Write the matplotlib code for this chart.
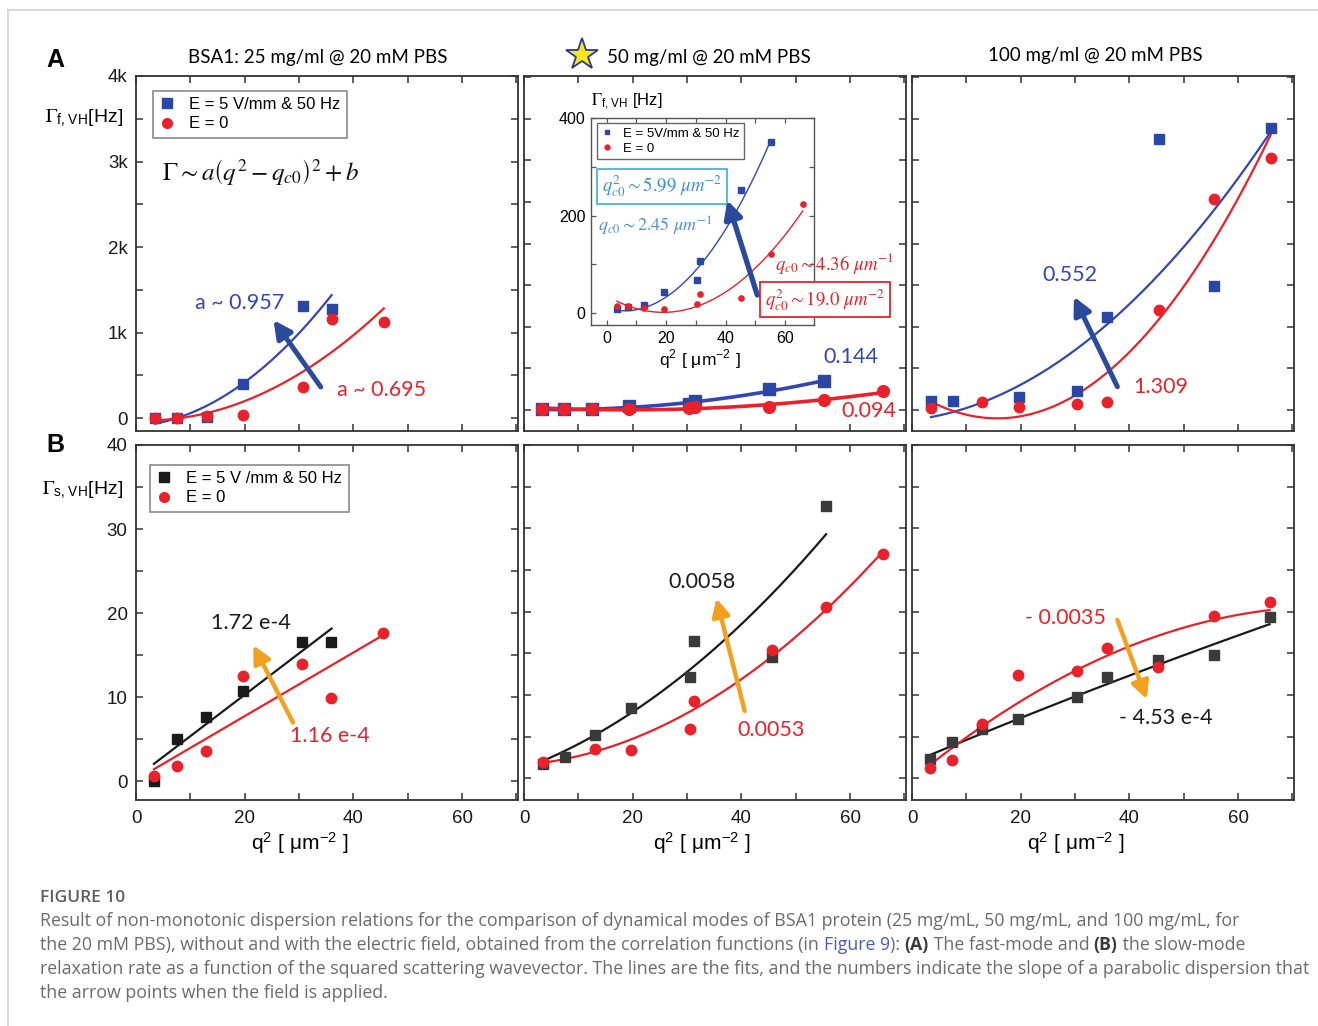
import numpy as np
import matplotlib
matplotlib.use("Agg")
import matplotlib.pyplot as plt
from matplotlib.ticker import MultipleLocator, FuncFormatter
from matplotlib.lines import Line2D

# ---- data (q^2 in um^-2, Gamma in Hz) ----
# A: fast mode, 25 mg/ml
q2_A1_E = [3.5, 7.6, 13.0, 19.6, 30.7, 36.0]
G_A1_E = [0, 0, 12, 403, 1310, 1278]
q2_A1_0 = [3.5, 7.6, 13.0, 19.6, 30.7, 36.0, 45.6]
G_A1_0 = [0, 0, 20, 32, 360, 1160, 1122]
# A: fast mode, 50 mg/ml (same points in main panel and inset)
q2_A2_E = [3.4, 7.3, 12.6, 19.4, 30.3, 31.4, 45.1, 55.3]
G_A2_E = [8, 13, 16, 43, 68, 108, 252, 351]
q2_A2_0 = [3.4, 7.3, 12.6, 19.4, 30.3, 31.4, 45.1, 55.3, 66.0]
G_A2_0 = [14, 14, 10, 8, 20, 40, 32, 122, 223]
# A: fast mode, 100 mg/ml
q2_A3_E = [3.5, 7.5, 19.6, 30.4, 35.8, 45.5, 55.6, 66.0]
G_A3_E = [112, 112, 160, 232, 1114, 3254, 1490, 3386]
q2_A3_0 = [3.5, 12.9, 19.6, 30.4, 35.9, 45.5, 55.6, 66.0]
G_A3_0 = [28, 100, 36, 72, 100, 1202, 2536, 3025]
# B: slow mode
q2_B1_E = [3.3, 7.5, 12.9, 19.6, 30.5, 35.9]
G_B1_E = [0, 5.1, 7.7, 10.7, 16.6, 16.6]
q2_B1_0 = [3.3, 7.5, 12.9, 19.6, 30.5, 35.9, 45.5]
G_B1_0 = [0.7, 1.85, 3.6, 12.5, 14.0, 9.9, 17.6]
q2_B2_E = [3.5, 7.6, 13.1, 19.7, 30.5, 31.2, 45.6, 55.6]
G_B2_E = [1.7, 2.5, 5.2, 8.4, 12.1, 16.5, 14.6, 32.7]
q2_B2_0 = [3.5, 13.1, 19.7, 30.5, 31.2, 45.6, 55.6, 66.0]
G_B2_0 = [2.0, 3.5, 3.4, 5.9, 9.3, 15.4, 20.6, 26.9]
q2_B3 = [3.3, 7.4, 12.9, 19.5, 30.3, 35.8, 45.3, 55.6, 65.8]
G_B3_E = [2.3, 4.3, 5.9, 7.1, 9.7, 12.1, 14.2, 14.8, 19.3]
G_B3_0 = [1.2, 2.2, 6.5, 12.4, 12.9, 15.6, 13.3, 19.5, 21.2]

# fit curves: polynomial coefficients (highest power first) and q^2 range
fit_A1_E = ([1.057, 4.52, -94.8], 3.5, 36.0)
fit_A1_0 = ([0.682, -2.41, -26.9], 3.5, 45.6)
fit_A2_E = ([0.144, -1.725, 10.2], 3.4, 55.3)
fit_A2_0 = ([0.094, -3.572, 35.9], 3.4, 66.0)
fit_A3_E = ([0.68, 7.6, -120.0], 3.5, 65.7)
fit_A3_0 = ([1.346, -42.26, 231.8], 3.5, 66.0)
fit_B1_E = ([0.492, 0.47], 3.3, 36.0)
fit_B1_0 = ([0.378, 0.21], 3.3, 45.5)
fit_B2_E = ([0.00467, 0.246, 1.18], 3.5, 55.6)
fit_B2_0 = ([0.00502, 0.0563, 1.61], 3.5, 66.0)
fit_B3_E = ([-0.000332, 0.274, 1.90], 3.3, 65.8)
fit_B3_0 = ([-0.00351, 0.540, -0.144], 3.3, 65.8)

titles = ["BSA1: 25 mg/ml @ 20 mM PBS", "50 mg/ml @ 20 mM PBS", "100 mg/ml @ 20 mM PBS"]

BLUE = "#2b47a6"
BLUE_L = "#3446b4"
RED = "#e8212a"
BLACK = "#1a1a1a"
GREY_SQ = "#3a3a3a"
ORANGE = "#f2a11f"
ARROW_BLUE = "#2a4a9c"
SANS = ["Liberation Sans", "DejaVu Sans"]
CAL = ["Lato", "DejaVu Sans"]

W, H = 1318, 1026
plt.rcParams["mathtext.fontset"] = "stix"
plt.rcParams["font.family"] = SANS

fig = plt.figure(figsize=(W / 100, H / 100), dpi=100)


def box(l, t, r, b):
    return [l / W, 1 - b / H, (r - l) / W, (b - t) / H]


def frame(ax, ylim, ymaj, ymin, ylab, xlab, fmt=None):
    ax.set_xlim(0, 70.3)
    ax.set_ylim(*ylim)
    ax.xaxis.set_major_locator(MultipleLocator(20))
    ax.xaxis.set_minor_locator(MultipleLocator(10))
    ax.yaxis.set_major_locator(MultipleLocator(ymaj))
    ax.yaxis.set_minor_locator(MultipleLocator(ymin))
    ax.tick_params(which="both", direction="in", top=True, right=True,
                   length=5, width=1.1, color="#333333",
                   labelsize=13.5, labelcolor="#1a1a1a")
    ax.tick_params(axis="x", pad=7)
    ax.tick_params(axis="y", pad=6)
    ax.tick_params(labelleft=ylab, labelbottom=xlab)
    if fmt is not None:
        ax.yaxis.set_major_formatter(fmt)
    for s in ax.spines.values():
        s.set_color("#333333")
        s.set_linewidth(1.3)


def fit(ax, f, color, lw):
    coef, lo, hi = f
    xs = np.linspace(lo, hi, 200)
    ax.plot(xs, np.polyval(coef, xs), color=color, lw=lw, zorder=2)


def arrow(ax, tail, head, color, lw=3.6):
    ax.annotate("", xy=head, xytext=tail,
                arrowprops=dict(arrowstyle="-|>,head_length=0.75,head_width=0.38",
                                color=color, lw=lw, shrinkA=0, shrinkB=0,
                                mutation_scale=14), zorder=5)


kfmt = FuncFormatter(lambda v, p: "0" if v == 0 else f"{int(v / 1000)}k")
QLAB = r"q$^{\mathregular{2}}$ [ μm$^{\mathregular{-2}}$ ]"

axA1 = fig.add_axes(box(136, 76, 518, 431))
axA2 = fig.add_axes(box(524, 76, 906, 431))
axA3 = fig.add_axes(box(912, 76, 1294, 431))
axB1 = fig.add_axes(box(136, 445, 518, 800))
axB2 = fig.add_axes(box(524, 445, 906, 800))
axB3 = fig.add_axes(box(912, 445, 1294, 800))

frame(axA1, (-152, 4000), 1000, 500, True, False, kfmt)
frame(axA2, (-252, 4014), 500, 500, False, False)
frame(axA3, (-252, 4014), 500, 500, False, False)
frame(axB1, (-2.2, 40), 10, 5, True, True)
frame(axB2, (-2.6, 40), 10, 5, False, True)
frame(axB3, (-2.6, 40), 10, 5, False, True)

# ---- A1 ----
fit(axA1, fit_A1_E, BLUE_L, 1.6)
fit(axA1, fit_A1_0, RED, 1.6)
axA1.plot(q2_A1_E, G_A1_E, "s", ms=7, color=BLUE, zorder=3)
axA1.plot(q2_A1_0, G_A1_0, "o", ms=7.5, color=RED, zorder=3)
arrow(axA1, (34.0, 363), (25.3, 1145), ARROW_BLUE)
axA1.text(19.1, 1342, "a ~ 0.957", color=BLUE_L, family=CAL, size=15.5, ha="center", va="center")
axA1.text(45.1, 325, "a ~ 0.695", color=RED, family=CAL, size=15.5, ha="center", va="center")
axA1.text(0.325, 0.73, r"$\Gamma \sim a\left(q^{2}-q_{c0}\right)^{2}+b$", transform=axA1.transAxes,
          size=18, ha="center", va="center", color="#111111")
h_E = Line2D([], [], marker="s", ls="none", ms=6.5, color=BLUE)
h_0 = Line2D([], [], marker="o", ls="none", ms=7, color=RED)
leg = axA1.legend([h_E, h_0], ["E = 5 V/mm & 50 Hz", "E = 0"], loc="upper left",
                  bbox_to_anchor=(0.0445, 0.958), borderaxespad=0, fancybox=False,
                  edgecolor="#8a8a8a", framealpha=1, prop=dict(family=SANS, size=12),
                  handlelength=0.9, handletextpad=0.9, labelspacing=0.25, borderpad=0.38)
leg.get_frame().set_linewidth(1.2)

# ---- A2 main ----
fit(axA2, fit_A2_E, BLUE_L, 2.6)
fit(axA2, fit_A2_0, RED, 2.6)
axA2.plot(q2_A2_E, G_A2_E, "s", ms=8, color=BLUE, zorder=3)
axA2.plot(q2_A2_0, G_A2_0, "o", ms=8.5, color=RED, zorder=3)
axA2.text(60.1, 637, "0.144", color=BLUE_L, family=CAL, size=15.5, ha="center", va="center")
axA2.text(63.4, -12, "0.094", color=RED, family=CAL, size=15.5, ha="center", va="center")
axA2.plot([0.152], [1.059], marker="*", ms=24, mfc="#f7e81e", mec="#2b3990", mew=1.3,
          transform=axA2.transAxes, clip_on=False)

# ---- A2 inset ----
axI = fig.add_axes(box(591, 118, 814, 325))
axI.set_xlim(-5.3, 69.8)
axI.set_ylim(-24, 400)
axI.xaxis.set_major_locator(MultipleLocator(20))
axI.xaxis.set_minor_locator(MultipleLocator(10))
axI.yaxis.set_major_locator(MultipleLocator(200))
axI.yaxis.set_minor_locator(MultipleLocator(100))
axI.tick_params(which="both", direction="in", top=True, right=True, length=3.5,
                width=0.9, color="#555555", labelsize=11.5, pad=4)
for s in axI.spines.values():
    s.set_color("#555555")
    s.set_linewidth(1.0)
fit(axI, fit_A2_E, BLUE_L, 1.0)
fit(axI, fit_A2_0, RED, 1.0)
axI.plot(q2_A2_E, G_A2_E, "s", ms=3.8, color=BLUE, zorder=3)
axI.plot(q2_A2_0, G_A2_0, "o", ms=3.8, color=RED, zorder=3)
arrow(axI, (50.7, 37.4), (40.6, 231.7), ARROW_BLUE, lw=3.8)
axI.set_xlabel(QLAB, size=12.5)
axI.xaxis.label.set_va("center")
axI.xaxis.set_label_coords(0.489, -0.169)
axI.text(0.0, 1.082, r"$\Gamma_{\mathregular{f,\,VH}}$ [Hz]", transform=axI.transAxes,
         ha="left", va="center", size=12)
hi_E = Line2D([], [], marker="s", ls="none", ms=3.5, color=BLUE)
hi_0 = Line2D([], [], marker="o", ls="none", ms=3.5, color=RED)
legI = axI.legend([hi_E, hi_0], ["E = 5V/mm & 50 Hz", "E = 0"], loc="upper left",
                  bbox_to_anchor=(0.027, 0.976), borderaxespad=0, fancybox=False,
                  edgecolor="#666666", framealpha=1, prop=dict(family=SANS, size=9.5),
                  handlelength=0.8, handletextpad=0.8, labelspacing=0.2, borderpad=0.35)
legI.get_frame().set_linewidth(1.0)
axI.text(0.318, 0.671, r"$q_{c0}^{2} \sim 5.99\ \mu m^{-2}$", transform=axI.transAxes,
         ha="center", va="center", size=13.5, color="#3b8fd6",
         bbox=dict(boxstyle="square,pad=0.25", fc="white", ec="#45b4e8", lw=1.3))
axI.text(0.29, 0.478, r"$q_{c0} \sim 2.45\ \mu m^{-1}$", transform=axI.transAxes,
         ha="center", va="center", size=13, color="#4a8fd8")
axI.text(1.094, 0.295, r"$q_{c0} \sim 4.36\ \mu m^{-1}$", transform=axI.transAxes,
         ha="center", va="center", size=13.5, color=RED, clip_on=False)
axI.text(1.049, 0.121, r"$q_{c0}^{2} \sim 19.0\ \mu m^{-2}$", transform=axI.transAxes,
         ha="center", va="center", size=13.5, color=RED, clip_on=False,
         bbox=dict(boxstyle="square,pad=0.25", fc="white", ec=RED, lw=1.3))

# ---- A3 ----
fit(axA3, fit_A3_E, BLUE_L, 1.6)
fit(axA3, fit_A3_0, RED, 1.6)
axA3.plot(q2_A3_E, G_A3_E, "s", ms=7, color=BLUE, zorder=3)
axA3.plot(q2_A3_0, G_A3_0, "o", ms=7.5, color=RED, zorder=3)
arrow(axA3, (37.8, 280), (29.8, 1362), ARROW_BLUE)
axA3.text(29.1, 1623, "0.552", color=BLUE_L, family=CAL, size=15.5, ha="center", va="center")
axA3.text(45.7, 276, "1.309", color=RED, family=CAL, size=15.5, ha="center", va="center")

# ---- B1 ----
fit(axB1, fit_B1_E, BLACK, 1.6)
fit(axB1, fit_B1_0, RED, 1.6)
axB1.plot(q2_B1_E, G_B1_E, "s", ms=7, color=BLACK, zorder=3)
axB1.plot(q2_B1_0, G_B1_0, "o", ms=7.5, color=RED, zorder=3)
arrow(axB1, (28.9, 7.0), (21.6, 16.2), ORANGE, lw=3.2)
axB1.text(21.2, 18.8, "1.72 e-4", color=BLACK, family=CAL, size=15.5, ha="center", va="center")
axB1.text(35.7, 5.4, "1.16 e-4", color=RED, family=CAL, size=15.5, ha="center", va="center")
hb_E = Line2D([], [], marker="s", ls="none", ms=6.5, color=BLACK)
legB = axB1.legend([hb_E, h_0], ["E = 5 V /mm & 50 Hz", "E = 0"], loc="upper left",
                   bbox_to_anchor=(0.037, 0.944), borderaxespad=0, fancybox=False,
                   edgecolor="#8a8a8a", framealpha=1, prop=dict(family=SANS, size=12),
                   handlelength=0.9, handletextpad=0.9, labelspacing=0.25, borderpad=0.38)
legB.get_frame().set_linewidth(1.2)

# ---- B2 ----
fit(axB2, fit_B2_E, BLACK, 1.6)
fit(axB2, fit_B2_0, RED, 1.6)
axB2.plot(q2_B2_E, G_B2_E, "s", ms=7, color=GREY_SQ, zorder=3)
axB2.plot(q2_B2_0, G_B2_0, "o", ms=7.5, color=RED, zorder=3)
arrow(axB2, (40.6, 8.1), (35.4, 21.6), ORANGE, lw=3.2)
axB2.text(32.7, 23.5, "0.0058", color=BLACK, family=CAL, size=15.5, ha="center", va="center")
axB2.text(45.4, 5.8, "0.0053", color=RED, family=CAL, size=15.5, ha="center", va="center")

# ---- B3 ----
fit(axB3, fit_B3_E, BLACK, 1.6)
fit(axB3, fit_B3_0, RED, 1.6)
axB3.plot(q2_B3, G_B3_E, "s", ms=7, color=GREY_SQ, zorder=3)
axB3.plot(q2_B3, G_B3_0, "o", ms=7.5, color=RED, zorder=3)
arrow(axB3, (37.8, 19.0), (43.2, 9.5), ORANGE, lw=3.2)
axB3.text(28.2, 19.2, "- 0.0035", color=RED, family=CAL, size=15.5, ha="center", va="center")
axB3.text(46.8, 7.3, "- 4.53 e-4", color=BLACK, family=CAL, size=15.5, ha="center", va="center")

for ax, fx in [(axB1, 0.43), (axB2, 0.466), (axB3, 0.43)]:
    ax.set_xlabel(QLAB, size=15)
    ax.xaxis.label.set_va("center")
    ax.xaxis.set_label_coords(fx, -0.121)

# titles, panel letters, y labels
fig.text(318 / W, 1 - 57 / H, titles[0], family=CAL, size=13.5, ha="center", va="center")
fig.text(607 / W, 1 - 57 / H, titles[1], family=CAL, size=13.5, ha="left", va="center")
fig.text(1095 / W, 1 - 55 / H, titles[2], family=CAL, size=13.5, ha="center", va="center")
fig.text(55 / W, 1 - 60 / H, "A", weight="bold", size=18, ha="center", va="center")
fig.text(55 / W, 1 - 445 / H, "B", weight="bold", size=18, ha="center", va="center")
fig.text(45 / W, 1 - 118 / H, r"$\Gamma_{\mathregular{f,\,VH}}$[Hz]", size=14, ha="left", va="center")
fig.text(42 / W, 1 - 490 / H, r"$\Gamma_{\mathregular{s,\,VH}}$[Hz]", size=14, ha="left", va="center")

# page frame lines
fig.add_artist(Line2D([8 / W, 8 / W], [0, 1 - 10 / H], color="#d2d2d2", lw=1.2))
fig.add_artist(Line2D([8 / W, 1], [1 - 10 / H, 1 - 10 / H], color="#d2d2d2", lw=1.2))

# ---- caption ----
CAP = ["Open Sans", "DejaVu Sans"]
CAP_C = "#6b6b6b"
rend = fig.canvas.get_renderer()


def text_w(s, **kw):
    t = fig.text(0, 0, "|" + s + "|", **kw)
    w = t.get_window_extent(rend).width
    t.set_text("||")
    w -= t.get_window_extent(rend).width
    t.remove()
    return w


cap_lines = [
    [("Result of non-monotonic dispersion relations for the comparison of dynamical modes of BSA1 protein "
      "(25 mg/mL, 50 mg/mL, and 100 mg/mL, for", CAP_C, "normal")],
    [("the 20 mM PBS), without and with the electric field, obtained from the correlation functions (in ",
      CAP_C, "normal"), ("Figure 9", "#4b5bb8", "normal"), ("): ", CAP_C, "normal"),
     ("(A)", "#3a3a3a", "bold"), (" The fast-mode and ", CAP_C, "normal"), ("(B)", "#3a3a3a", "bold"),
     (" the slow-mode", CAP_C, "normal")],
    [("relaxation rate as a function of the squared scattering wavevector. The lines are the fits, and the "
      "numbers indicate the slope of a parabolic dispersion that", CAP_C, "normal")],
    [("the arrow points when the field is applied.", CAP_C, "normal")],
]
size0 = 12
cap_size = size0 * 1258 / text_w(cap_lines[2][0][0], family=CAP, size=size0)

fig.text(40 / W, 1 - 902 / H, "FIGURE 10", family=CAP, size=cap_size * 0.98, weight="semibold",
         color="#5e5e5e", ha="left", va="baseline")
for i, line in enumerate(cap_lines):
    x = 40
    yb = 926 + 24 * i
    for s, c, wgt in line:
        fig.text(x / W, 1 - yb / H, s, family=CAP, size=cap_size, weight=wgt, color=c,
                 ha="left", va="baseline")
        x += text_w(s, family=CAP, size=cap_size, weight=wgt)

fig.savefig("out.png", dpi=100, facecolor="white")
